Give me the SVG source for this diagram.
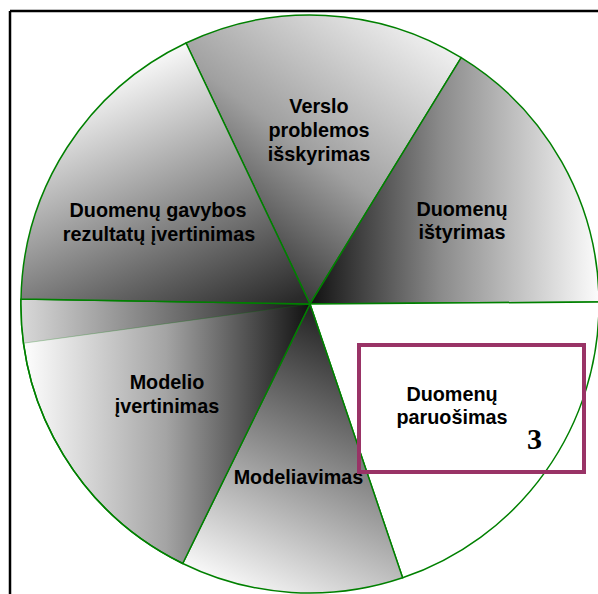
<svg xmlns="http://www.w3.org/2000/svg" width="598" height="594" viewBox="0 0 598 594">
  <style>
    .slice { stroke: #008000; stroke-width: 1.5; stroke-linejoin: round; }
    .label { font-family: "Liberation Sans", Arial, sans-serif; font-weight: bold; font-size: 19.8px; fill: #000; text-anchor: middle; }
    .num { font-family: "Liberation Serif", "Times New Roman", serif; font-weight: bold; font-size: 30px; fill: #000; text-anchor: middle; }
    .frame { stroke: #000; stroke-width: 2.5; fill: none; }
  </style>
  <defs>
    <linearGradient id="gVerslo" gradientUnits="userSpaceOnUse" x1="440" y1="30" x2="250" y2="285">
      <stop offset="0" stop-color="#f4f4f4"/>
      <stop offset="0.55" stop-color="#a0a0a0"/>
      <stop offset="1" stop-color="#2a2a2a"/>
    </linearGradient>
    <linearGradient id="gIstyrimas" gradientUnits="userSpaceOnUse" x1="310" y1="0" x2="598" y2="0">
      <stop offset="0" stop-color="#111"/>
      <stop offset="0.45" stop-color="#8a8a8a"/>
      <stop offset="1" stop-color="#fbfbfb"/>
    </linearGradient>
    <linearGradient id="gModeliavimas" gradientUnits="userSpaceOnUse" x1="345" y1="315" x2="215" y2="590">
      <stop offset="0" stop-color="#1e1e1e"/>
      <stop offset="0.5" stop-color="#8e8e8e"/>
      <stop offset="1" stop-color="#ffffff"/>
    </linearGradient>
    <linearGradient id="gModelio" gradientUnits="userSpaceOnUse" x1="22" y1="0" x2="310" y2="0">
      <stop offset="0" stop-color="#ffffff"/>
      <stop offset="0.5" stop-color="#a4a4a4"/>
      <stop offset="1" stop-color="#111"/>
    </linearGradient>
    <linearGradient id="gJuosta" gradientUnits="userSpaceOnUse" x1="22" y1="0" x2="300" y2="0">
      <stop offset="0" stop-color="#d8d8d8"/>
      <stop offset="1" stop-color="#1a1a1a"/>
    </linearGradient>
    <linearGradient id="gGavybos" gradientUnits="userSpaceOnUse" x1="180" y1="45" x2="295" y2="300">
      <stop offset="0" stop-color="#f8f8f8"/>
      <stop offset="0.45" stop-color="#9c9c9c"/>
      <stop offset="1" stop-color="#2a2a2a"/>
    </linearGradient>
  </defs>

  <!-- outer frame: top and left rules only -->
  <g id="frame">
    <path class="frame" d="M10,11 H598 M10,11 V594"/>
  </g>

  <g id="verslo-problemos">
    <path class="slice" fill="url(#gVerslo)" d="M310,304 L186,43 A289,289 0 0 1 461.2,57.6 Z"/>
    <text class="label" x="319" y="113">Verslo<tspan x="319" dy="24">problemos</tspan><tspan x="319" dy="24">išskyrimas</tspan></text>
  </g>

  <g id="duomenu-istyrimas">
    <path class="slice" fill="url(#gIstyrimas)" d="M310,304 L461.2,57.6 A289,289 0 0 1 599,302 Z"/>
    <text class="label" x="462" y="216">Duomenų<tspan x="462" dy="23">ištyrimas</tspan></text>
  </g>

  <g id="duomenu-paruosimas">
    <path class="slice" fill="#ffffff" d="M310,304 L599,302 A289,289 0 0 1 402.6,577.8 Z"/>
  </g>

  <g id="modeliavimas">
    <path class="slice" fill="url(#gModeliavimas)" d="M310,304 L402.6,577.8 A289,289 0 0 1 182.7,563.5 Z"/>
    <text class="label" x="298.5" y="484">Modeliavimas</text>
  </g>

  <g id="modelio-ivertinimas">
    <path class="slice" fill="url(#gModelio)" d="M310,304 L182.7,563.5 A289,289 0 0 1 21,299 Z"/>
    <!-- thin band at the top of the slice with its own shading -->
    <path fill="url(#gJuosta)" stroke="#008000" stroke-opacity="0.25" stroke-width="1" d="M310,304 L23.7,343.2 A289,289 0 0 1 21,299 Z"/>
    <path fill="none" stroke="#008000" stroke-width="1.5" d="M310,304 L21,299 M182.7,563.5 A289,289 0 0 1 21,299"/>
    <text class="label" x="167" y="389">Modelio<tspan x="167" dy="24">įvertinimas</tspan></text>
  </g>

  <g id="duomenu-gavybos">
    <path class="slice" fill="url(#gGavybos)" d="M310,304 L21,299 A289,289 0 0 1 186,43 Z"/>
    <text class="label" x="158" y="217">Duomenų gavybos<tspan x="159" dy="24">rezultatų įvertinimas</tspan></text>
  </g>

  <!-- highlighted step box drawn over the white slice -->
  <g id="paruosimas-box">
    <rect x="359" y="345" width="225" height="127" fill="none" stroke="#993366" stroke-width="4"/>
    <text class="label" x="452" y="401">Duomenų<tspan x="452" dy="23">paruošimas</tspan></text>
    <text class="num" x="534.5" y="449">3</text>
  </g>

  <g id="connectors"/>
</svg>
